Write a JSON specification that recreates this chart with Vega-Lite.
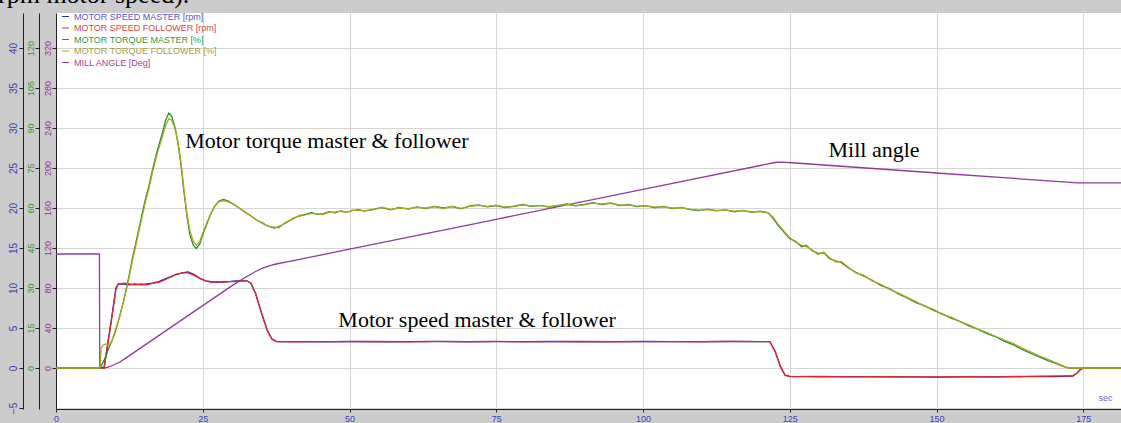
{
  "$schema": "https://vega.github.io/schema/vega-lite/v6.json",
  "width": 1065,
  "height": 396,
  "autosize": {"type": "none"},
  "padding": {"left": 56, "top": 13, "right": 0, "bottom": 14},
  "background": "#cccccc",
  "config": {
    "view": {"fill": "#ffffff", "stroke": null},
    "font": "Liberation Sans",
    "axis": {"domainColor": "#222222", "tickColor": "#222222", "labelFont": "Liberation Sans", "labelOverlap": false, "labelFlush": false}
  },
  "title": {
    "text": "rpm motor speed).",
    "anchor": "start",
    "frame": "group",
    "orient": "top",
    "offset": 0,
    "dx": -58,
    "dy": 17,
    "font": "Liberation Serif",
    "fontSize": 26,
    "fontWeight": "normal",
    "color": "#000000",
    "baseline": "alphabetic"
  },
  "datasets": {
    "speed": [
      {"t": 0, "sm": 0, "sf": 0},
      {"t": 7.5, "sm": 0, "sf": 0},
      {"t": 8.2, "sm": 0.1, "sf": 0.0},
      {"t": 8.9, "sm": 3.5, "sf": 3.3},
      {"t": 9.5, "sm": 6.4, "sf": 6.2},
      {"t": 10.2, "sm": 10.0, "sf": 9.8},
      {"t": 10.6, "sm": 10.5, "sf": 10.5},
      {"t": 11.5, "sm": 10.5, "sf": 10.6},
      {"t": 12.5, "sm": 10.4, "sf": 10.5},
      {"t": 13.5, "sm": 10.5, "sf": 10.4},
      {"t": 14.5, "sm": 10.4, "sf": 10.5},
      {"t": 15.5, "sm": 10.5, "sf": 10.4},
      {"t": 16.5, "sm": 10.6, "sf": 10.6},
      {"t": 17.5, "sm": 10.8, "sf": 10.7},
      {"t": 18.5, "sm": 11.1, "sf": 11.0},
      {"t": 19.5, "sm": 11.4, "sf": 11.4},
      {"t": 20.5, "sm": 11.7, "sf": 11.7},
      {"t": 21.5, "sm": 11.9, "sf": 11.9},
      {"t": 22.5, "sm": 12.0, "sf": 11.9},
      {"t": 23.5, "sm": 11.7, "sf": 11.6},
      {"t": 24.5, "sm": 11.2, "sf": 11.2},
      {"t": 25.5, "sm": 10.9, "sf": 10.9},
      {"t": 26.5, "sm": 10.8, "sf": 10.7},
      {"t": 27.5, "sm": 10.7, "sf": 10.8},
      {"t": 28.5, "sm": 10.8, "sf": 10.7},
      {"t": 29.5, "sm": 10.8, "sf": 10.8},
      {"t": 30.5, "sm": 10.9, "sf": 10.8},
      {"t": 31.5, "sm": 10.9, "sf": 10.9},
      {"t": 32.5, "sm": 10.9, "sf": 10.9},
      {"t": 33.2, "sm": 10.6, "sf": 10.6},
      {"t": 34, "sm": 9.3, "sf": 9.3},
      {"t": 35, "sm": 6.9, "sf": 6.9},
      {"t": 36, "sm": 4.7, "sf": 4.7},
      {"t": 36.8, "sm": 3.6, "sf": 3.6},
      {"t": 37.6, "sm": 3.3, "sf": 3.3},
      {"t": 40, "sm": 3.30, "sf": 3.28},
      {"t": 45, "sm": 3.27, "sf": 3.30},
      {"t": 50, "sm": 3.31, "sf": 3.29},
      {"t": 55, "sm": 3.28, "sf": 3.31},
      {"t": 60, "sm": 3.30, "sf": 3.27},
      {"t": 65, "sm": 3.32, "sf": 3.30},
      {"t": 70, "sm": 3.28, "sf": 3.29},
      {"t": 75, "sm": 3.30, "sf": 3.32},
      {"t": 80, "sm": 3.29, "sf": 3.27},
      {"t": 85, "sm": 3.31, "sf": 3.30},
      {"t": 90, "sm": 3.28, "sf": 3.31},
      {"t": 95, "sm": 3.30, "sf": 3.28},
      {"t": 100, "sm": 3.31, "sf": 3.30},
      {"t": 105, "sm": 3.29, "sf": 3.30},
      {"t": 110, "sm": 3.30, "sf": 3.28},
      {"t": 115, "sm": 3.31, "sf": 3.32},
      {"t": 120, "sm": 3.30, "sf": 3.29},
      {"t": 121.6, "sm": 3.30, "sf": 3.30},
      {"t": 122.5, "sm": 2.1, "sf": 2.1},
      {"t": 123.4, "sm": 0.2, "sf": 0.2},
      {"t": 124.2, "sm": -0.9, "sf": -0.9},
      {"t": 125, "sm": -1.05, "sf": -1.08},
      {"t": 130, "sm": -1.1, "sf": -1.05},
      {"t": 135, "sm": -1.08, "sf": -1.1},
      {"t": 140, "sm": -1.12, "sf": -1.08},
      {"t": 145, "sm": -1.1, "sf": -1.12},
      {"t": 150, "sm": -1.13, "sf": -1.1},
      {"t": 155, "sm": -1.1, "sf": -1.08},
      {"t": 160, "sm": -1.12, "sf": -1.1},
      {"t": 165, "sm": -1.08, "sf": -1.05},
      {"t": 170, "sm": -1.06, "sf": -1.02},
      {"t": 173.2, "sm": -1.0, "sf": -0.98},
      {"t": 174, "sm": -0.6, "sf": -0.6},
      {"t": 174.6, "sm": -0.1, "sf": -0.15},
      {"t": 175.2, "sm": 0, "sf": 0},
      {"t": 181.5, "sm": 0, "sf": 0}
    ],
    "torque": [
      {"t": 0, "tm": 0, "tf": 0},
      {"t": 7.5, "tm": 0, "tf": 0},
      {"t": 7.7, "tm": 0.8, "tf": 7.5},
      {"t": 8.0, "tm": 2, "tf": 8.5},
      {"t": 8.5, "tm": 4.5, "tf": 9},
      {"t": 9.0, "tm": 7.5, "tf": 8.5},
      {"t": 9.5, "tm": 10, "tf": 10},
      {"t": 10.1, "tm": 13.5, "tf": 14},
      {"t": 10.8, "tm": 19, "tf": 19},
      {"t": 11.5, "tm": 25, "tf": 25},
      {"t": 12.3, "tm": 33, "tf": 32.5},
      {"t": 13.1, "tm": 42, "tf": 41},
      {"t": 13.8, "tm": 49, "tf": 48},
      {"t": 14.5, "tm": 56, "tf": 55},
      {"t": 15.2, "tm": 63, "tf": 62},
      {"t": 15.8, "tm": 68, "tf": 67},
      {"t": 16.4, "tm": 74, "tf": 73},
      {"t": 17.2, "tm": 81, "tf": 80},
      {"t": 18.1, "tm": 88, "tf": 86.5},
      {"t": 18.7, "tm": 93, "tf": 91},
      {"t": 19.2, "tm": 95.6, "tf": 93.4},
      {"t": 19.7, "tm": 94.5, "tf": 93},
      {"t": 20.3, "tm": 90, "tf": 89.5},
      {"t": 20.8, "tm": 84, "tf": 84.5},
      {"t": 21.3, "tm": 76, "tf": 77},
      {"t": 21.8, "tm": 66, "tf": 67},
      {"t": 22.3, "tm": 57, "tf": 58},
      {"t": 22.8, "tm": 50, "tf": 51.5},
      {"t": 23.4, "tm": 46, "tf": 47.5},
      {"t": 23.9, "tm": 44.8, "tf": 46},
      {"t": 24.5, "tm": 46.5, "tf": 47.5},
      {"t": 25.0, "tm": 50, "tf": 50.6},
      {"t": 25.7, "tm": 54, "tf": 54.5},
      {"t": 26.3, "tm": 57.5, "tf": 57.5},
      {"t": 27.0, "tm": 60.5, "tf": 60.5},
      {"t": 27.7, "tm": 62.5, "tf": 62.3},
      {"t": 28.5, "tm": 63.2, "tf": 62.8},
      {"t": 29.3, "tm": 62.7, "tf": 62.4},
      {"t": 30.2, "tm": 61.5, "tf": 61.3},
      {"t": 31.2, "tm": 60, "tf": 60},
      {"t": 32.2, "tm": 58.5, "tf": 58.3},
      {"t": 33.2, "tm": 57, "tf": 57.2},
      {"t": 34.2, "tm": 55.5, "tf": 55.3},
      {"t": 35.2, "tm": 54.2, "tf": 54.5},
      {"t": 36.2, "tm": 53.2, "tf": 53},
      {"t": 37.2, "tm": 52.5, "tf": 52.8},
      {"t": 38.0, "tm": 53, "tf": 52.6},
      {"t": 38.8, "tm": 54, "tf": 54.2},
      {"t": 39.6, "tm": 55, "tf": 55.2},
      {"t": 40.5, "tm": 56.3, "tf": 56},
      {"t": 41.5, "tm": 57, "tf": 57.3},
      {"t": 42.5, "tm": 57.6, "tf": 57.4},
      {"t": 43.5, "tm": 58.3, "tf": 58},
      {"t": 44.5, "tm": 57.6, "tf": 57.8},
      {"t": 45.5, "tm": 57.9, "tf": 57.6},
      {"t": 46.5, "tm": 58.6, "tf": 58.4},
      {"t": 47.5, "tm": 58.2, "tf": 58.5},
      {"t": 48.5, "tm": 58.9, "tf": 58.7},
      {"t": 49.5, "tm": 58.4, "tf": 58.3},
      {"t": 50.5, "tm": 59, "tf": 59.2},
      {"t": 51.5, "tm": 59.4, "tf": 59.1},
      {"t": 52.5, "tm": 58.8, "tf": 59},
      {"t": 54, "tm": 59.5, "tf": 59.3},
      {"t": 55.5, "tm": 60.1, "tf": 60.3},
      {"t": 57, "tm": 59.3, "tf": 59.5},
      {"t": 58.5, "tm": 60.2, "tf": 60},
      {"t": 60, "tm": 59.6, "tf": 59.8},
      {"t": 61.5, "tm": 60.4, "tf": 60.2},
      {"t": 63, "tm": 59.8, "tf": 60},
      {"t": 64.5, "tm": 60.6, "tf": 60.5},
      {"t": 66, "tm": 60, "tf": 59.8},
      {"t": 67.5, "tm": 60.5, "tf": 60.7},
      {"t": 69, "tm": 59.7, "tf": 59.9},
      {"t": 70.5, "tm": 60.8, "tf": 60.6},
      {"t": 72, "tm": 61.2, "tf": 61},
      {"t": 73.5, "tm": 60.4, "tf": 60.6},
      {"t": 75, "tm": 60.9, "tf": 61.1},
      {"t": 76.5, "tm": 60.2, "tf": 60.3},
      {"t": 78, "tm": 60.7, "tf": 60.5},
      {"t": 79.5, "tm": 61.3, "tf": 61.2},
      {"t": 81, "tm": 60.6, "tf": 60.8},
      {"t": 82.5, "tm": 61.0, "tf": 60.9},
      {"t": 84, "tm": 60.3, "tf": 60.5},
      {"t": 85.5, "tm": 60.9, "tf": 61},
      {"t": 87, "tm": 61.5, "tf": 61.3},
      {"t": 88.5, "tm": 60.8, "tf": 61},
      {"t": 90, "tm": 61.4, "tf": 61.2},
      {"t": 91.5, "tm": 62, "tf": 61.8},
      {"t": 93, "tm": 61.3, "tf": 61.5},
      {"t": 94.5, "tm": 61.8, "tf": 61.9},
      {"t": 96, "tm": 60.9, "tf": 61.1},
      {"t": 97.5, "tm": 61.3, "tf": 61.2},
      {"t": 99, "tm": 60.5, "tf": 60.7},
      {"t": 100.5, "tm": 60.9, "tf": 60.8},
      {"t": 102, "tm": 60.1, "tf": 60.3},
      {"t": 103.5, "tm": 60.6, "tf": 60.4},
      {"t": 105, "tm": 59.8, "tf": 60},
      {"t": 106.5, "tm": 60.2, "tf": 60.1},
      {"t": 108, "tm": 59.4, "tf": 59.6},
      {"t": 109.5, "tm": 59.0, "tf": 59.2},
      {"t": 111, "tm": 59.6, "tf": 59.4},
      {"t": 112.5, "tm": 58.9, "tf": 59.1},
      {"t": 114, "tm": 59.3, "tf": 59.2},
      {"t": 115.5, "tm": 58.6, "tf": 58.8},
      {"t": 117, "tm": 59.1, "tf": 59},
      {"t": 118.5, "tm": 58.4, "tf": 58.6},
      {"t": 120, "tm": 58.8, "tf": 58.6},
      {"t": 121.3, "tm": 58.2, "tf": 58.3},
      {"t": 122.2, "tm": 56, "tf": 56.5},
      {"t": 123, "tm": 53.5, "tf": 54},
      {"t": 124, "tm": 51, "tf": 51.3},
      {"t": 125, "tm": 48.5, "tf": 48.8},
      {"t": 126, "tm": 47.5, "tf": 47.2},
      {"t": 127, "tm": 45.5, "tf": 46},
      {"t": 127.8, "tm": 46, "tf": 45.6},
      {"t": 128.8, "tm": 44, "tf": 44.3},
      {"t": 129.8, "tm": 43, "tf": 42.6},
      {"t": 130.8, "tm": 43.2, "tf": 43.5},
      {"t": 131.8, "tm": 41, "tf": 41.3},
      {"t": 132.8, "tm": 40.2, "tf": 39.8},
      {"t": 133.8, "tm": 39.5, "tf": 39.9},
      {"t": 135, "tm": 37.5, "tf": 37.8},
      {"t": 136.2, "tm": 36, "tf": 35.7},
      {"t": 137.5, "tm": 34.5, "tf": 34.9},
      {"t": 139, "tm": 33, "tf": 32.7},
      {"t": 140.5, "tm": 31, "tf": 31.4},
      {"t": 142, "tm": 29.8, "tf": 29.5},
      {"t": 143.5, "tm": 27.8, "tf": 28.1},
      {"t": 145, "tm": 26.3, "tf": 26.5},
      {"t": 146.5, "tm": 24.5, "tf": 24.9},
      {"t": 148, "tm": 23.3, "tf": 23.1},
      {"t": 149.5, "tm": 21.6, "tf": 22},
      {"t": 151, "tm": 20.3, "tf": 20.1},
      {"t": 152.5, "tm": 18.7, "tf": 19.1},
      {"t": 154, "tm": 17.5, "tf": 17.4},
      {"t": 155.5, "tm": 15.8, "tf": 16.2},
      {"t": 157, "tm": 14.6, "tf": 14.7},
      {"t": 158.5, "tm": 13, "tf": 13.4},
      {"t": 160, "tm": 11.8, "tf": 11.9},
      {"t": 161.5, "tm": 10.1, "tf": 10.6},
      {"t": 163, "tm": 8.8, "tf": 9.2},
      {"t": 164.5, "tm": 7.1, "tf": 7.6},
      {"t": 166, "tm": 5.6, "tf": 6.1},
      {"t": 167.5, "tm": 4.2, "tf": 4.6},
      {"t": 169, "tm": 2.8, "tf": 3.2},
      {"t": 170.5, "tm": 1.5, "tf": 1.8},
      {"t": 171.8, "tm": 0.4, "tf": 0.6},
      {"t": 172.5, "tm": 0, "tf": 0},
      {"t": 181.5, "tm": 0, "tf": 0}
    ],
    "angle": [
      {"t": 0, "ang": 114},
      {"t": 7.4, "ang": 114},
      {"t": 7.45, "ang": 0},
      {"t": 8.3, "ang": 0},
      {"t": 9.0, "ang": 1},
      {"t": 9.8, "ang": 3},
      {"t": 10.9, "ang": 6},
      {"t": 12, "ang": 10.4},
      {"t": 15, "ang": 22.4},
      {"t": 20, "ang": 42.4},
      {"t": 25, "ang": 62.4},
      {"t": 30, "ang": 82.4},
      {"t": 32.5, "ang": 91.5},
      {"t": 34, "ang": 96.5},
      {"t": 35.2, "ang": 99.8},
      {"t": 36.3, "ang": 102.2},
      {"t": 37.5, "ang": 104},
      {"t": 40, "ang": 106.8},
      {"t": 50, "ang": 118.8},
      {"t": 75, "ang": 148.7},
      {"t": 100, "ang": 178.6},
      {"t": 122.5, "ang": 205.5},
      {"t": 123.5, "ang": 205.8},
      {"t": 126, "ang": 205},
      {"t": 150, "ang": 195},
      {"t": 174, "ang": 185.2},
      {"t": 181.5, "ang": 185.2}
    ],
    "notes": [
      {"t": 22.0, "y": 27.46, "label": "Motor torque master & follower"},
      {"t": 131.6, "y": 26.4, "label": "Mill angle"},
      {"t": 48.1, "y": 5.09, "label": "Motor speed master & follower"}
    ]
  },
  "encoding": {
    "x": {
      "field": "t",
      "type": "quantitative",
      "scale": {"domain": [0, 181.43], "nice": false, "zero": false},
      "axis": {
        "orient": "bottom",
        "values": [0, 25, 50, 75, 100, 125, 150, 175],
        "labelColor": "#4040c0",
        "labelFontSize": 9,
        "tickSize": 3,
        "labelPadding": 2,
        "grid": true,
        "gridColor": "#d6d6d6",
        "title": "sec",
        "titleX": 1049,
        "titleY": -12,
        "titleColor": "#6a6ac0",
        "titleFontSize": 9,
        "titleFontWeight": "normal",
        "titleAlign": "center",
        "titleBaseline": "middle",
        "titleFont": "Liberation Sans"
      }
    }
  },
  "layer": [
    {
      "data": {"name": "angle"},
      "transform": [{"fold": ["ang"], "as": ["s", "v"]}],
      "mark": {"type": "line", "strokeWidth": 1.3},
      "encoding": {
        "y": {
          "field": "v",
          "type": "quantitative",
          "scale": {"domain": [-41, 355], "nice": false, "zero": false},
          "axis": {
            "orient": "left", "offset": 0,
            "values": [0, 40, 80, 120, 160, 200, 240, 280, 320],
            "labelColor": "#993399", "labelFontSize": 9,
            "labelAngle": -90, "labelAlign": "center", "labelBaseline": "alphabetic",
            "tickSize": 4, "labelPadding": 2, "grid": false, "title": null
          }
        },
        "color": {
          "field": "s", "type": "nominal",
          "scale": {"domain": ["sm", "sf", "tm", "tf", "ang"], "range": ["#2a2ab0", "#e02828", "#2e8b2e", "#a8a826", "#8c3c9c"]},
          "legend": {
            "orient": "none", "legendX": 5, "legendY": -1, "padding": 0, "rowPadding": 1.5,
            "title": null, "labelFontSize": 9, "labelFont": "Liberation Sans", "labelOffset": 4,
            "labelLimit": 300, "labelBaseline": "middle",
            "symbolType": "stroke", "symbolSize": 49, "symbolStrokeWidth": 1,
            "labelExpr": "datum.value=='sm'?'MOTOR SPEED MASTER [rpm]':datum.value=='sf'?'MOTOR SPEED FOLLOWER [rpm]':datum.value=='tm'?'MOTOR TORQUE MASTER [%]':datum.value=='tf'?'MOTOR TORQUE FOLLOWER [%]':'MILL ANGLE [Deg]'",
            "encode": {
              "labels": {"update": {"fill": {"signal": "datum.value=='sm'?'#5555cc':datum.value=='sf'?'#dd4444':datum.value=='tm'?'#3a963a':datum.value=='tf'?'#a0a040':'#9a449a'"}}},
              "symbols": {"update": {"stroke": {"signal": "datum.value=='sm'?'#2a2ab0':datum.value=='sf'?'#e02828':datum.value=='tm'?'#2e8b2e':datum.value=='tf'?'#a8a826':'#8c3c9c'"}, "strokeWidth": {"value": 1}}}
            }
          }
        }
      }
    },
    {
      "data": {"name": "speed"},
      "transform": [{"fold": ["sm", "sf"], "as": ["s", "v"]}],
      "mark": {"type": "line", "strokeWidth": 1.3},
      "encoding": {
        "y": {
          "field": "v",
          "type": "quantitative",
          "scale": {"domain": [-5.125, 44.375], "nice": false, "zero": false},
          "axis": {
            "orient": "left", "offset": 33,
            "values": [-5, 0, 5, 10, 15, 20, 25, 30, 35, 40],
            "labelColor": "#3a3ac8", "labelFontSize": 10,
            "labelAngle": -90, "labelAlign": "center", "labelBaseline": "alphabetic",
            "tickSize": 4, "labelPadding": 3, "grid": true, "gridColor": "#d6d6d6", "title": null
          }
        },
        "color": {"field": "s", "type": "nominal"}
      }
    },
    {
      "data": {"name": "torque"},
      "transform": [{"fold": ["tm", "tf"], "as": ["s", "v"]}],
      "mark": {"type": "line", "strokeWidth": 1.3},
      "encoding": {
        "y": {
          "field": "v",
          "type": "quantitative",
          "scale": {"domain": [-15.375, 133.125], "nice": false, "zero": false},
          "axis": {
            "orient": "left", "offset": 17,
            "values": [0, 15, 30, 45, 60, 75, 90, 105, 120],
            "labelColor": "#339933", "labelFontSize": 9,
            "labelAngle": -90, "labelAlign": "center", "labelBaseline": "alphabetic",
            "tickSize": 4, "labelPadding": 2, "grid": false, "title": null
          }
        },
        "color": {"field": "s", "type": "nominal"}
      }
    },
    {
      "data": {"name": "notes"},
      "mark": {"type": "text", "font": "Liberation Serif", "fontSize": 22, "align": "left", "baseline": "alphabetic", "color": "#000000"},
      "encoding": {
        "y": {"field": "y", "type": "quantitative", "scale": {"domain": [-5.125, 44.375], "nice": false, "zero": false}, "axis": null},
        "text": {"field": "label"}
      }
    }
  ],
  "resolve": {"scale": {"y": "independent"}, "axis": {"y": "independent"}}
}
